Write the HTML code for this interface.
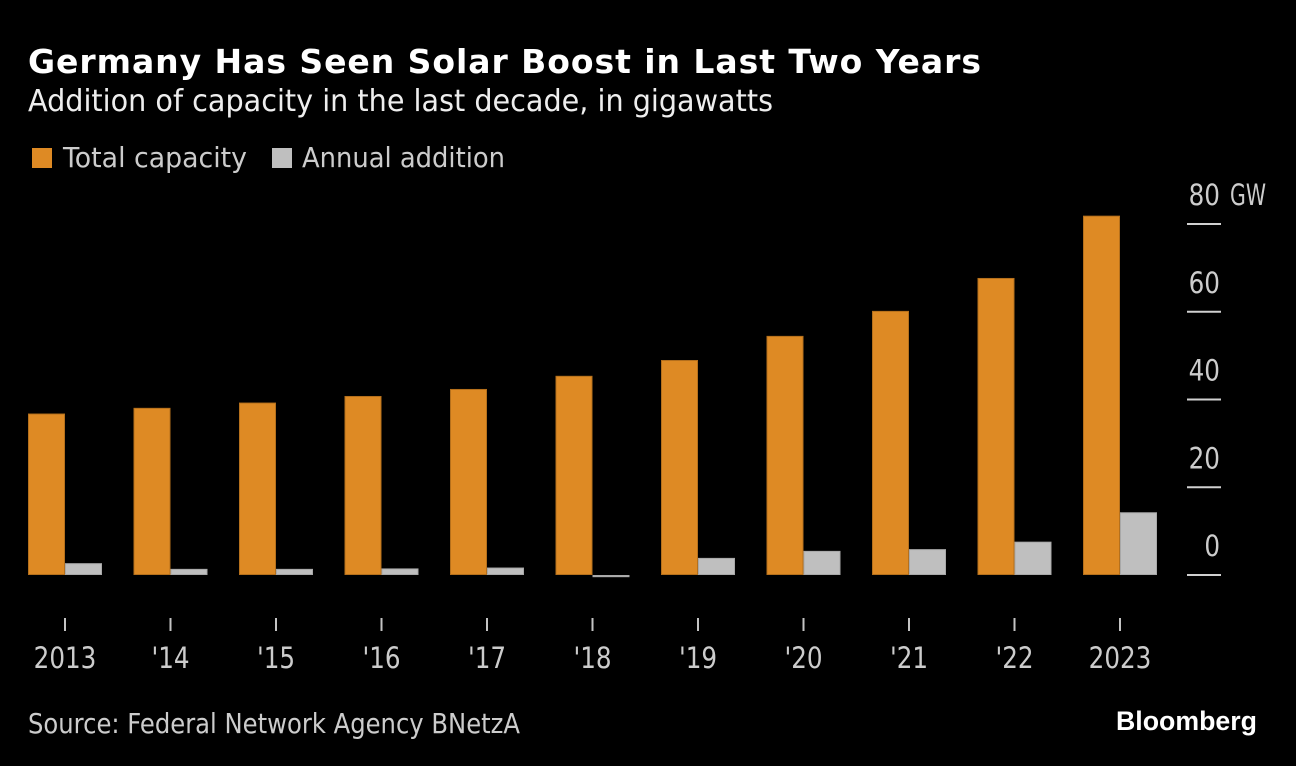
<!DOCTYPE html>
<html lang="en">
<head>
<meta charset="utf-8">
<title>Germany Has Seen Solar Boost in Last Two Years</title>
<style>
html,body{margin:0;padding:0;background:#000;width:1296px;height:766px;overflow:hidden}
svg{display:block}
text{font-family:"DejaVu Sans",sans-serif}
</style>
</head>
<body>
<svg id="chart" width="1296" height="766" viewBox="0 0 1296 766" xmlns="http://www.w3.org/2000/svg">
  <rect width="1296" height="766" fill="#000"/>
  <text x="28" y="73" font-size="33" font-weight="700" fill="#fff" textLength="953" lengthAdjust="spacing">Germany Has Seen Solar Boost in Last Two Years</text>
  <text x="28" y="111" font-size="30" fill="#eeeeee" textLength="745" lengthAdjust="spacingAndGlyphs">Addition of capacity in the last decade, in gigawatts</text>
  <g>
    <rect x="32" y="148" width="20" height="20" fill="#DE8A24"/>
    <text x="63" y="167" font-size="28" fill="#cccccc" textLength="184" lengthAdjust="spacingAndGlyphs">Total capacity</text>
    <rect x="272" y="148" width="20" height="20" fill="#BFBFBF"/>
    <text x="302" y="167" font-size="28" fill="#cccccc" textLength="203" lengthAdjust="spacingAndGlyphs">Annual addition</text>
  </g>
  <g id="bars"></g>
  <g id="x-axis"></g>
  <g id="y-axis"></g>
  <text x="28" y="733" font-size="28" fill="#cccccc" textLength="492" lengthAdjust="spacingAndGlyphs">Source: Federal Network Agency BNetzA</text>
  <text x="1116" y="730" font-size="27" font-weight="700" fill="#fff" textLength="141" lengthAdjust="spacingAndGlyphs" style="font-family:'Liberation Sans',sans-serif">Bloomberg</text>
</svg>
<script>
const categories = ["2013", "'14", "'15", "'16", "'17", "'18", "'19", "'20", "'21", "'22", "2023"];
const totalCapacity = [36.8, 38.1, 39.3, 40.8, 42.4, 45.4, 49.0, 54.5, 60.2, 67.7, 81.9];
const annualAddition = [2.7, 1.4, 1.4, 1.5, 1.7, -0.5, 3.9, 5.5, 5.9, 7.6, 14.3];
const yTicks = [0, 20, 40, 60, 80];

const NS = 'http://www.w3.org/2000/svg';
const barsGroup = document.getElementById('bars');
const xGroup = document.getElementById('x-axis');
const yGroup = document.getElementById('y-axis');

function yScale(v) { return 575 - v * 4.3875; }
function xCenter(i) { return 65 + i * 105.5; }

function make(tag, attrs, parent) {
  const el = document.createElementNS(NS, tag);
  for (const k in attrs) el.setAttribute(k, attrs[k]);
  parent.appendChild(el);
  return el;
}

function barRect(x, v, fill, stroke) {
  const y0 = yScale(Math.max(v, 0));
  const y1 = yScale(Math.min(v, 0));
  return make('rect', { x: x + 0.5, y: y0 + 0.5, width: 36, height: Math.max(y1 - y0 - 1, 0.5), fill: fill, stroke: stroke, 'stroke-width': 1 }, barsGroup);
}

categories.forEach(function (cat, i) {
  const cx = xCenter(i);
  const orange = barRect(cx - 37, totalCapacity[i], '#DE8A24', '#B5701C');
  
  
  const grey = barRect(cx, annualAddition[i], '#BFBFBF', '#a8a8a8');
  
  

  const tick = make('line', { x1: cx, x2: cx, y1: 618, y2: 631, stroke: '#c4c4c4', 'stroke-width': 2 }, xGroup);
  
  
  const label = make('text', { transform: 'translate(' + cx + ',668) scale(0.85,1)', 'text-anchor': 'middle', 'font-size': 29, fill: '#cccccc' }, xGroup);
  label.textContent = cat;
  
  
});

yTicks.forEach(function (t) {
  const y = yScale(t);
  const tick = make('line', { x1: 1187, x2: 1221, y1: y, y2: y, stroke: '#d0d0d0', 'stroke-width': 2 }, yGroup);
  
  
  const label = make('text', { transform: 'translate(1220,' + (y - 19) + ') scale(0.85,1)', 'text-anchor': 'end', 'font-size': 29, fill: '#cccccc' }, yGroup);
  label.textContent = String(t);
  
  
});

const unit = make('text', { x: 1230, y: yScale(80) - 19, 'font-size': 29, fill: '#cccccc', textLength: 36, lengthAdjust: 'spacingAndGlyphs' }, yGroup);
unit.textContent = 'GW';


</script>
</body>
</html>
